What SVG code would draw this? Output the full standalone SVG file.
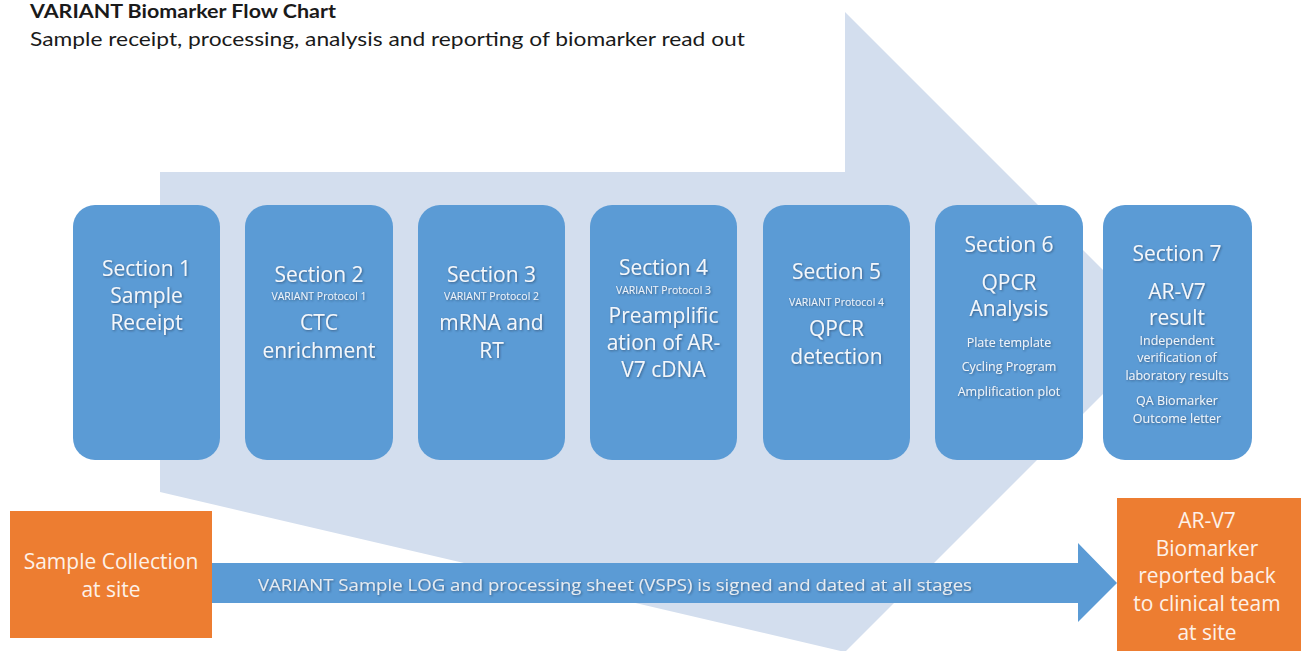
<svg xmlns="http://www.w3.org/2000/svg" width="1304" height="651" viewBox="0 0 1304 651">
  <style>
    .title { font-family: Lato, "Open Sans", sans-serif; font-size: 19px; font-weight: 700; fill: #1a1a1a; }
    .sub { font-family: Lato, "Open Sans", sans-serif; font-size: 19px; fill: #1a1a1a; }
    .box { fill: #5b9bd5; }
    .site { fill: #ed7d31; }
    .t { font-family: "Open Sans", "Liberation Sans", sans-serif; font-size: 21px; fill: #f4f7fb; text-anchor: middle; }
    .s { font-family: "Open Sans", "Liberation Sans", sans-serif; font-size: 10.5px; fill: #eef3f9; text-anchor: middle; }
    .m { font-family: "Open Sans", "Liberation Sans", sans-serif; font-size: 12.5px; fill: #f0f4f9; text-anchor: middle; }
    .o { font-family: "Open Sans", "Liberation Sans", sans-serif; font-size: 21px; fill: #fdf1e8; text-anchor: middle; }
    .log { font-family: "Open Sans", "Liberation Sans", sans-serif; font-size: 17px; fill: #e6ebf1; }
  </style>
  <defs>
    <filter id="shadow" x="-10%" y="-40%" width="120%" height="180%">
      <feDropShadow dx="1" dy="1" stdDeviation="0.8" flood-color="#1e3148" flood-opacity="0.55"/>
    </filter>
  </defs>

  <rect width="1304" height="651" fill="#ffffff"/>

  <!-- heading -->
  <text class="title" x="30" y="18" textLength="306" lengthAdjust="spacingAndGlyphs">VARIANT Biomarker Flow Chart</text>
  <text class="sub" x="30" y="46" textLength="715" lengthAdjust="spacingAndGlyphs">Sample receipt, processing, analysis and reporting of biomarker read out</text>

  <!-- wide background arrow behind the sections -->
  <polygon id="process-arrow" points="160,172 845,172 845,12 1165,332 845,652 160,492" fill="#d3deee"/>

  <!-- connectors -->
  <g id="connectors">
    <polygon id="log-arrow" points="212,563 1078,563 1078,543 1117,583 1078,622 1078,603 212,603" fill="#5b9bd5"/>
    <text class="log" x="258" y="591" textLength="714" lengthAdjust="spacingAndGlyphs" filter="url(#shadow)">VARIANT Sample LOG and processing sheet (VSPS) is signed and dated at all stages</text>
  </g>

  <!-- section boxes -->
  <g id="section-1">
    <rect class="box" x="73" y="205" width="147" height="255" rx="22"/>
    <g filter="url(#shadow)">
      <text class="t" x="146.5" y="276">Section 1</text>
      <text class="t" x="146.5" y="303">Sample</text>
      <text class="t" x="146.5" y="330">Receipt</text>
    </g>
  </g>

  <g id="section-2">
    <rect class="box" x="245" y="205" width="148" height="255" rx="22"/>
    <g filter="url(#shadow)">
      <text class="t" x="319" y="282">Section 2</text>
      <text class="s" x="319" y="300">VARIANT Protocol 1</text>
      <text class="t" x="319" y="330">CTC</text>
      <text class="t" x="319" y="358">enrichment</text>
    </g>
  </g>

  <g id="section-3">
    <rect class="box" x="418" y="205" width="147" height="255" rx="22"/>
    <g filter="url(#shadow)">
      <text class="t" x="491.5" y="282">Section 3</text>
      <text class="s" x="491.5" y="300">VARIANT  Protocol 2</text>
      <text class="t" x="491.5" y="330">mRNA and</text>
      <text class="t" x="491.5" y="358">RT</text>
    </g>
  </g>

  <g id="section-4">
    <rect class="box" x="590" y="205" width="147" height="255" rx="22"/>
    <g filter="url(#shadow)">
      <text class="t" x="663.5" y="275">Section 4</text>
      <text class="s" x="663.5" y="294">VARIANT  Protocol 3</text>
      <text class="t" x="663.5" y="323">Preamplific</text>
      <text class="t" x="663.5" y="350">ation of AR-</text>
      <text class="t" x="663.5" y="377">V7 cDNA</text>
    </g>
  </g>

  <g id="section-5">
    <rect class="box" x="763" y="205" width="147" height="255" rx="22"/>
    <g filter="url(#shadow)">
      <text class="t" x="836.5" y="279">Section 5</text>
      <text class="s" x="836.5" y="306">VARIANT  Protocol 4</text>
      <text class="t" x="836.5" y="336">QPCR</text>
      <text class="t" x="836.5" y="364">detection</text>
    </g>
  </g>

  <g id="section-6">
    <rect class="box" x="935" y="205" width="148" height="255" rx="22"/>
    <g filter="url(#shadow)">
      <text class="t" x="1009" y="252">Section 6</text>
      <text class="t" x="1009" y="290">QPCR</text>
      <text class="t" x="1009" y="316">Analysis</text>
      <text class="m" x="1009" y="347">Plate template</text>
      <text class="m" x="1009" y="371">Cycling Program</text>
      <text class="m" x="1009" y="396">Amplification plot</text>
    </g>
  </g>

  <g id="section-7">
    <rect class="box" x="1103" y="205" width="149" height="255" rx="22"/>
    <g filter="url(#shadow)">
      <text class="t" x="1177" y="261">Section 7</text>
      <text class="t" x="1177" y="299" font-size="22">AR-V7</text>
      <text class="t" x="1177" y="325">result</text>
      <text class="m" x="1177" y="345" font-size="12">Independent</text>
      <text class="m" x="1177" y="362" font-size="12">verification of</text>
      <text class="m" x="1177" y="380" font-size="12">laboratory results</text>
      <text class="m" x="1177" y="405" font-size="12">QA Biomarker</text>
      <text class="m" x="1177" y="423" font-size="12">Outcome letter</text>
    </g>
  </g>

  <!-- site boxes -->
  <g id="sample-collection">
    <rect class="site" x="10" y="511" width="202" height="127"/>
    <text class="o" x="111" y="569">Sample Collection</text>
    <text class="o" x="111" y="597">at site</text>
  </g>

  <g id="report-back">
    <rect class="site" x="1117" y="498" width="184" height="160"/>
    <text class="o" x="1207" y="528">AR-V7</text>
    <text class="o" x="1207" y="556">Biomarker</text>
    <text class="o" x="1207" y="583">reported back</text>
    <text class="o" x="1207" y="611">to clinical team</text>
    <text class="o" x="1207" y="640">at site</text>
  </g>
</svg>
